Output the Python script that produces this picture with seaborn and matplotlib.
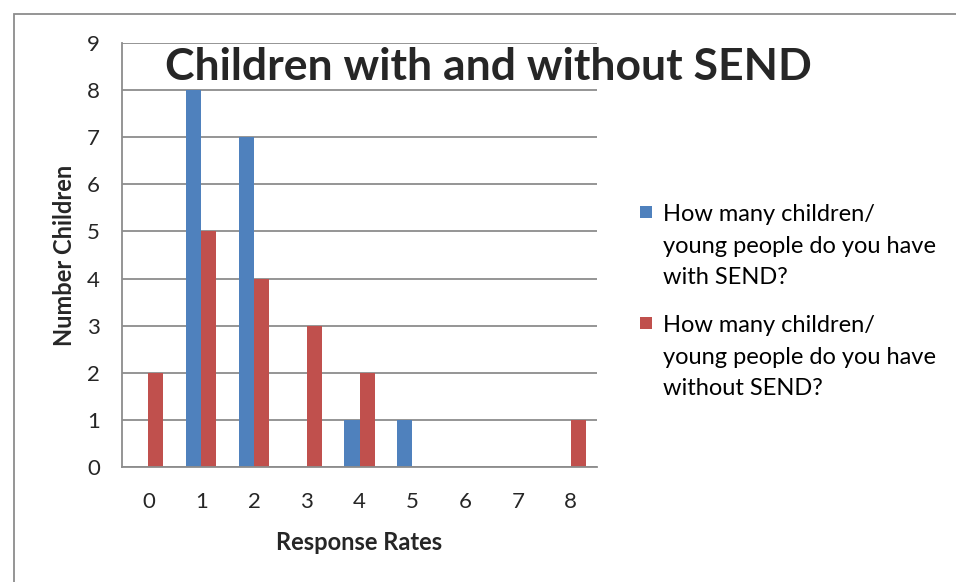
import matplotlib
matplotlib.use("Agg")
import matplotlib.pyplot as plt
import seaborn as sns
import pandas as pd
from matplotlib.patches import Rectangle

categories = ["0", "1", "2", "3", "4", "5", "6", "7", "8"]
with_send = [0, 8, 7, 0, 1, 1, 0, 0, 0]
without_send = [2, 5, 4, 3, 2, 0, 0, 0, 1]
series_names = [
    "How many children/\nyoung people do you have\nwith SEND?",
    "How many children/\nyoung people do you have\nwithout SEND?",
]
colors = ["#4F81BD", "#C0504D"]

df = pd.DataFrame({
    "Response Rates": categories * 2,
    "Number Children": with_send + without_send,
    "series": [series_names[0]] * len(categories) + [series_names[1]] * len(categories),
})

sns.set_style("white")
plt.rcParams["font.family"] = ["Lato", "DejaVu Sans"]

W, H = 956, 582
fig = plt.figure(figsize=(W / 100, H / 100), dpi=100)
ax = fig.add_axes([0.1276, 0.1976, 0.4969, 0.7285])

sns.barplot(data=df, x="Response Rates", y="Number Children", hue="series",
            order=categories, hue_order=series_names, palette=colors,
            width=0.57, gap=0, ax=ax, saturation=1, linewidth=0, legend=False)

ax.set_xlim(-0.5, 8.5)
ax.set_ylim(0, 9)
ax.set_yticks(range(10))
ax.yaxis.grid(True, color="#8C8C8C", linewidth=1.3)
ax.set_axisbelow(True)
ax.set_xticks([i - 0.5 for i in range(10)], minor=True)
ax.set_xticks(range(9))
ax.set_xticklabels(categories)
ax.tick_params(axis="x", which="major", length=0, pad=18, labelsize=16)
ax.tick_params(axis="x", which="minor", length=8, width=1.3, color="#8C8C8C", direction="out")
ax.tick_params(axis="y", length=8, width=1.3, color="#8C8C8C", direction="out", pad=8, labelsize=16)
for side in ["top", "right"]:
    ax.spines[side].set_visible(False)
for side in ["left", "bottom"]:
    ax.spines[side].set_color("#8C8C8C")
    ax.spines[side].set_linewidth(1.3)

ax.set_xlabel("Response Rates", fontsize=17, fontweight="bold", labelpad=14)
ax.set_ylabel("Number Children", fontsize=17, fontweight="bold", labelpad=8)

fig.text(488 / W, 1 - 67 / H, "Children with and without SEND", ha="center", va="center",
         fontsize=32, fontweight="bold")

# Legend: square swatch beside the first line of each wrapped label
for (name, col, top) in zip(series_names, colors, [204, 315]):
    fig.patches.append(Rectangle((640 / W, 1 - (top + 14) / H), 12 / W, 12 / H,
                                 transform=fig.transFigure, facecolor=col, edgecolor="none"))
    fig.text(663 / W, 1 - top / H, name, ha="left", va="top", fontsize=17,
             linespacing=1.63, color="#000000")

fig.patches.append(Rectangle((14 / W, -0.1), 1.2, 1 - 14 / H + 0.1,
                             transform=fig.transFigure, fill=False,
                             edgecolor="#8C8C8C", linewidth=1.3))

fig.savefig("out.png", dpi=100)
